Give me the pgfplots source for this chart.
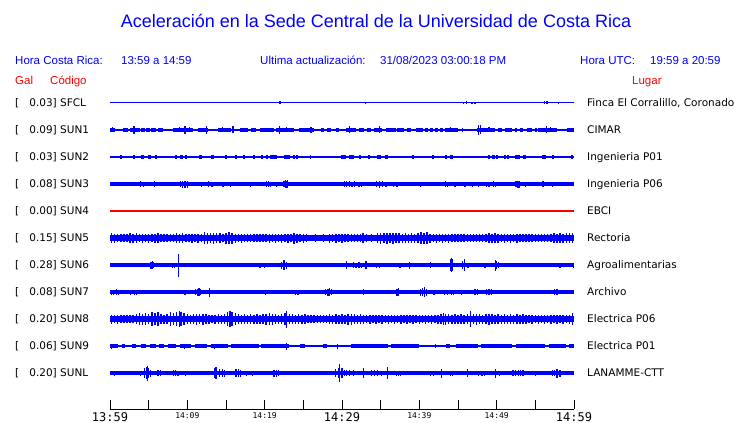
\documentclass[border=0pt]{standalone}
\usepackage{pgfplots}
\pgfplotsset{compat=1.18}
\usepackage{fontspec}
\setmainfont{DejaVu Sans}
\newfontfamily\arial{Liberation Sans}
\newfontfamily\dv{DejaVu Sans}
\newfontfamily\dvm{DejaVu Sans Mono}
\definecolor{tblue}{RGB}{0,0,255}
\definecolor{tred}{RGB}{255,0,0}
\newcommand\TB[1]{{\dvm\fontsize{12}{12}\selectfont #1}}
\newcommand\TS[1]{{\dvm\fontsize{8}{8}\selectfont #1}}
\pgfplotsset{
 spk/.style={only marks, mark size=0pt, mark options={draw=none, fill=none}, error bars/.cd, y dir=both, y explicit, error mark=none, error bar style={line width=#1, draw=tblue}},
 spk/.default=1.2pt,
 blk/.style={only marks, mark size=0pt, mark options={draw=none, fill=none}, error bars/.cd, x dir=both, x explicit, error mark=none, error bar style={line width=#1, draw=tblue}},
 base/.style={tblue, line width=#1},
}
\begin{document}
\begin{tikzpicture}
\useasboundingbox (0,0) rectangle (740pt,423pt);
\begin{axis}[at={(110pt,14pt)}, anchor=south west, scale only axis,
 width=464pt, height=319pt, xmin=0, xmax=60, ymin=90, ymax=409, y dir=reverse,
 axis x line*=bottom, axis y line=none, ytick=\empty, clip=false,
 xtick={0,5,...,60}, tick align=inside, major tick length=9pt,
 tick style={black, line width=0.9pt}, axis line style={black, line width=0.9pt},
 xticklabels={\TB{13:59},,\TS{14:09},,\TS{14:19},,\TB{14:29},,\TS{14:39},,\TS{14:49},,\TB{14:59}},
 xticklabel style={inner sep=0pt, anchor=north, yshift=-3pt},
]
% SFCL
\addplot[base=1pt] coordinates {(0,103) (60,103)};
\addplot[spk=1.4pt] table[row sep=\\, x=t, y expr=103, y error=a] {t a\\ 21.9 1.5\\ 22.0 1.5\\ 33.0 1.3\\ 45.7 1.2\\ 46.1 1.5\\ 46.8 1.3\\ 47.2 1.2\\ 56.2 1.5\\ 56.5 1.5\\ 58.0 1.2\\};
% SUN1
\addplot[base=1.1pt] coordinates {(0,130) (60,130)};
\addplot[blk=3.4pt] table[row sep=\\, x expr={(\thisrow{a}+\thisrow{b})/2}, y expr=130, x error expr={(\thisrow{b}-\thisrow{a})/2}] {a b\\
0 0.65\\ 1.68 2.33\\ 2.59 3.88\\ 4.01 4.53\\ 4.66 5.17\\ 5.3 5.95\\ 6.2 6.85\\ 8.15 10.73\\ 11.38 12.67\\ 13.96 15.65\\ 16.81 17.84\\ 18.23 18.88\\ 19.4 21.2\\ 21.46 23.79\\ 24.44 26.38\\ 27.28 27.67\\ 28.06 28.58\\ 29.22 29.61\\ 30.52 31.81\\ 32.2 32.84\\ 33.23 33.75\\ 34.14 35.17\\ 35.69 36.98\\ 37.11 38.01\\ 38.4 38.92\\ 39.57 40.47\\ 40.73 41.12\\ 41.38 41.76\\ 42.02 42.41\\ 42.67 43.06\\ 43.32 45.0\\ 45.51 45.64\\ 47.45 49.78\\ 50.17 50.69\\ 51.07 51.98\\ 52.37 52.62\\ 53.02 53.4\\ 53.92 54.56\\ 54.95 55.21\\ 55.34 57.8\\ 59.09 60\\};
\addplot[spk] table[row sep=\\, x=t, y expr=130, y error=a] {t a\\ 0.3 2.5\\ 3.1 4\\ 9.0 2.5\\ 9.7 4\\ 10.3 2.5\\ 12.5 4\\ 14.5 2.5\\ 15.9 3.5\\ 21.9 4\\ 22.8 2.5\\ 26.0 3\\ 31.0 3.5\\ 34.8 3.5\\ 44.0 2.5\\ 47.7 5\\ 47.9 4.5\\ 49.0 2.5\\ 56.4 3.5\\ 57.0 2.5\\};
% SUN2
\addplot[base=1.1pt] coordinates {(0,157) (60,157)};
\addplot[blk=3.3pt] table[row sep=\\, x expr={(\thisrow{a}+\thisrow{b})/2}, y expr=157, x error expr={(\thisrow{b}-\thisrow{a})/2}] {a b\\
1.3 1.55\\ 3.0 3.25\\ 4.0 4.4\\ 4.9 5.3\\ 5.8 6.1\\ 8.35 8.6\\ 9.05 9.4\\ 9.7 10.0\\ 11.55 11.85\\ 13.0 13.4\\ 14.9 15.15\\ 16.2 16.4\\ 17.2 17.5\\ 18.5 18.7\\ 19.5 19.75\\ 20.15 20.35\\ 20.7 21.6\\ 22.5 23.3\\ 23.7 23.95\\ 24.1 24.35\\ 25.8 26.05\\ 29.9 30.5\\ 30.9 31.5\\ 32.2 32.5\\ 33.4 33.65\\ 34.5 35.0\\ 35.6 35.9\\ 39.1 39.35\\ 41.7 41.95\\ 43.3 43.6\\ 44.0 44.4\\ 48.9 49.1\\ 49.4 49.8\\ 49.9 50.15\\ 51.0 51.25\\ 51.4 51.65\\ 52.4 53.0\\ 53.4 53.8\\ 55.9 56.4\\ 57.1 57.35\\ 59.6 59.85\\};
% SUN3
\addplot[base=3.3pt] coordinates {(0,184) (60,184)};
\addplot[spk] table[row sep=\\, x=t, y expr=184, y error=a] {t a\\ 3.9 2.8\\ 4.3 2.5\\ 5.8 3\\ 9.1 3\\ 9.4 3.5\\ 9.7 3.5\\ 9.8 3\\ 10.0 3.5\\ 11.8 2.5\\ 12.7 2.8\\ 13.2 2.5\\ 14.6 2.5\\ 15.6 2.5\\ 18.2 2.5\\ 20.2 2.8\\ 20.5 2.8\\ 20.8 2.5\\ 21.5 2.5\\ 22.5 3\\ 22.7 4\\ 22.9 3.5\\ 23.0 4\\ 30.3 2.8\\ 30.6 2.8\\ 31.0 3\\ 31.3 2.5\\ 31.6 2.8\\ 32.2 2.5\\ 32.5 2.5\\ 34.5 3\\ 34.8 3.5\\ 35.2 2.8\\ 35.7 2.5\\ 36.7 2.5\\ 37.1 2.5\\ 40.2 2.5\\ 43.4 3\\ 43.6 2.5\\ 44.6 2.5\\ 45.9 2.5\\ 46.9 2.5\\ 47.7 2.5\\ 48.7 2.5\\ 49.0 2.5\\ 49.6 2.8\\ 49.9 2.5\\ 52.5 3\\ 52.7 3.5\\ 52.9 3.5\\ 53.0 2.8\\ 53.7 2.5\\ 55.9 2.8\\ 56.1 2.8\\ 57.2 2.5\\};
% SUN4
\addplot[tred, line width=1.1pt] coordinates {(0,211) (60,211)};
% SUN5
\addplot[base=6.6pt] coordinates {(0,238) (60,238)};
\addplot[spk=1.5pt] table[row sep=\\, x=t, y expr=238, y error=a] {t a\\
0.2 5\\ 0.6 4.5\\ 1.0 4\\ 1.4 3.8\\ 1.8 4.2\\ 2.2 3.8\\ 2.6 5\\ 3.0 4.5\\ 3.4 5\\ 3.8 4.2\\ 4.2 4.5\\ 4.6 4\\ 5.0 4.5\\ 5.4 4.2\\ 5.8 4.5\\ 6.2 4.8\\ 6.6 4\\ 7.0 3.8\\ 7.4 4\\ 7.8 4.2\\ 8.2 3.8\\ 8.6 5\\ 9.0 4.5\\ 9.4 5\\ 9.8 4.3\\ 10.2 4\\ 10.6 4.5\\ 11.0 4.2\\ 11.4 4.5\\ 11.8 4\\ 12.2 6\\ 12.6 5.5\\ 13.0 5\\ 13.4 5.5\\ 13.8 4.8\\ 14.2 5.2\\ 14.6 4.2\\ 15.0 5.5\\ 15.4 6\\ 15.8 5.5\\ 16.2 4.5\\ 16.6 4.2\\ 17.0 4.5\\ 17.4 4\\ 17.8 4.2\\ 18.2 3.8\\ 18.6 4\\ 19.0 3.8\\ 19.4 4.2\\ 19.8 3.8\\ 20.2 4\\ 20.6 4.5\\ 21.0 4\\ 21.4 4.5\\ 21.8 4.2\\ 22.2 4.5\\ 22.6 4\\ 23.0 4.5\\ 23.4 4.2\\ 23.8 5.5\\ 24.2 4.5\\ 24.6 4.2\\ 25.0 4.5\\ 25.4 4\\ 26.6 3.6\\ 27.6 3.6\\ 28.4 4.5\\ 28.8 4.2\\ 29.2 4.5\\ 29.6 4\\ 30.0 4.5\\ 30.4 4\\ 30.8 3.8\\ 31.2 4\\ 31.6 3.8\\ 32.0 4\\ 32.4 4\\ 32.7 5\\ 33.2 3.6\\ 33.8 3.6\\ 34.6 5\\ 35.0 5.5\\ 35.4 4.8\\ 35.8 5.5\\ 36.2 5\\ 36.6 5.5\\ 37.0 4.8\\ 37.4 5\\ 37.8 4.5\\ 38.2 5\\ 38.6 4.5\\ 39.0 5\\ 39.4 4.5\\ 39.8 5\\ 40.2 6\\ 40.6 5.5\\ 41.0 6\\ 41.4 4.5\\ 41.8 4\\ 42.2 4.5\\ 42.6 4.2\\ 43.0 4.5\\ 43.4 4\\ 43.8 4.5\\ 44.2 4\\ 44.6 3.8\\ 45.0 4\\ 45.4 3.8\\ 45.8 4\\ 46.2 3.8\\ 46.6 4\\ 47.0 3.8\\ 47.4 4\\ 47.8 3.8\\ 48.2 4\\ 48.6 4\\ 49.0 5\\ 49.4 4.5\\ 49.8 5\\ 50.2 4.5\\ 50.6 4.2\\ 51.0 4.5\\ 51.4 4.2\\ 51.8 4.5\\ 52.2 4\\ 52.6 4.5\\ 53.0 4\\ 53.4 3.8\\ 53.8 4\\ 54.2 3.8\\ 54.6 4\\ 55.0 3.8\\ 55.4 4\\ 55.8 3.8\\ 56.2 4\\ 56.6 3.8\\ 57.0 4\\ 57.4 5\\ 57.8 4.5\\ 58.2 5\\ 58.6 4.5\\ 59.0 5\\ 59.4 4.8\\ 59.8 5.2\\};
% SUN6
\addplot[base=3.3pt] coordinates {(0,265) (60,265)};
\addplot[spk] table[row sep=\\, x=t, y expr=265, y error=a] {t a\\ 1.3 2\\ 2.3 2\\ 5.3 3.5\\ 5.5 4\\ 5.6 3\\ 7.2 2\\ 8.1 2.5\\ 8.3 2.5\\ 8.9 11.5\\ 9.4 2\\ 10.7 2\\ 11.0 2\\ 14.0 2\\ 16.9 2\\ 18.1 2\\ 19.4 2.5\\ 19.7 2\\ 20.0 2.5\\ 22.2 3.5\\ 22.5 5\\ 22.8 3.5\\ 23.4 2\\ 30.6 4\\ 31.5 3\\ 31.8 2.5\\ 32.2 3\\ 32.5 2.5\\ 33.1 4\\ 34.5 2.5\\ 34.8 2.5\\ 37.4 2.5\\ 37.6 2.5\\ 38.7 3.5\\ 40.0 2\\ 41.4 3\\ 44.1 6\\ 44.2 7\\ 44.3 6\\ 45.6 4\\ 45.8 6\\ 46.3 2.5\\ 47.5 2\\ 48.5 2.5\\ 49.8 5.5\\ 50.0 4\\ 50.2 3\\ 54.6 2\\ 58.2 2.5\\ 59.9 2.5\\};
% SUN7
\addplot[base=3.3pt] coordinates {(0,292) (60,292)};
\addplot[spk] table[row sep=\\, x=t, y expr=292, y error=a] {t a\\ 0.2 2.5\\ 0.5 2.5\\ 0.8 3\\ 1.1 2.5\\ 2.6 2.5\\ 3.2 2.5\\ 3.4 2.5\\ 4.0 2\\ 9.7 2.5\\ 9.8 2.5\\ 11.1 3\\ 11.3 3.5\\ 11.5 4\\ 11.7 3\\ 12.9 4.5\\ 14.0 2\\ 16.3 2\\ 18.7 2\\ 19.9 2\\ 20.1 2.5\\ 21.5 2\\ 24.0 2.5\\ 24.3 2.5\\ 25.3 2\\ 27.0 2\\ 27.9 3\\ 28.2 3.5\\ 28.4 4\\ 28.6 3\\ 29.9 2\\ 31.5 2\\ 32.8 3\\ 35.4 2\\ 36.5 2\\ 37.1 3.5\\ 37.3 4\\ 38.0 2\\ 40.1 3.5\\ 40.4 4\\ 40.7 5\\ 40.9 3.5\\ 41.8 2.5\\ 42.0 2.5\\ 42.7 2\\ 43.3 2.5\\ 43.6 2.5\\ 44.2 2.5\\ 44.4 2.5\\ 45.5 2.5\\ 47.2 3\\ 47.5 3\\ 48.7 3\\ 49.0 3\\ 49.3 3\\ 53.4 2\\ 54.0 2\\ 56.0 2\\ 57.5 3\\ 57.8 3\\};
% SUN8
\addplot[base=6.5pt] coordinates {(0,319) (60,319)};
\addplot[spk=1.5pt] table[row sep=\\, x=t, y expr=319, y error=a] {t a\\
0.2 4.5\\ 0.6 4\\ 1.0 4.5\\ 1.4 3.8\\ 1.8 4\\ 2.2 3.8\\ 2.6 4\\ 3.0 4\\ 3.4 5\\ 3.8 6\\ 4.2 5.5\\ 4.6 6\\ 5.0 5\\ 5.4 7\\ 5.8 6\\ 6.2 7\\ 6.6 5\\ 7.0 4.5\\ 7.4 5\\ 7.8 7\\ 8.2 6\\ 8.6 7\\ 9.0 8\\ 9.2 7\\ 9.6 6\\ 10.0 5\\ 10.4 4.5\\ 10.8 5\\ 11.2 5.5\\ 11.6 5\\ 12.0 5.5\\ 12.4 5\\ 12.8 4.5\\ 13.2 4.2\\ 13.6 4.5\\ 14.0 5\\ 14.4 4.5\\ 14.8 5\\ 15.2 7\\ 15.5 8\\ 15.8 7\\ 16.2 6\\ 16.6 5\\ 17.0 4.5\\ 17.4 5\\ 17.8 4.5\\ 18.2 5\\ 18.6 4.5\\ 19.0 5\\ 19.4 4.5\\ 19.8 5\\ 20.2 5.5\\ 20.6 6\\ 21.0 5.5\\ 21.4 5\\ 21.8 4.5\\ 22.2 5\\ 22.6 6\\ 22.8 8.5\\ 23.2 5\\ 23.6 5\\ 24.0 4.5\\ 24.4 5\\ 24.8 4.5\\ 25.2 5\\ 25.6 4\\ 26.0 3.8\\ 26.4 4\\ 26.8 3.8\\ 27.2 4\\ 27.6 3.8\\ 28.0 4\\ 28.4 5\\ 28.8 4.5\\ 29.2 5\\ 29.6 4.5\\ 30.0 5\\ 30.4 4.5\\ 30.8 5.5\\ 31.2 5.5\\ 31.6 5\\ 32.0 4.5\\ 32.4 5\\ 32.8 4.5\\ 33.2 4\\ 33.6 4.5\\ 34.0 4\\ 34.4 4.5\\ 34.8 4\\ 35.2 4.5\\ 35.6 4\\ 36.0 4.5\\ 36.4 4\\ 36.8 4.5\\ 37.2 4\\ 37.6 4.5\\ 38.0 4\\ 38.4 4.5\\ 38.8 4\\ 39.2 4.5\\ 39.6 4\\ 40.0 4.5\\ 40.4 4.2\\ 40.8 4.5\\ 41.2 4.2\\ 41.6 4.5\\ 42.0 4.2\\ 42.4 4.5\\ 42.8 5\\ 43.1 6\\ 43.4 5.5\\ 43.8 5\\ 44.2 4.5\\ 44.6 5\\ 45.0 4.5\\ 45.4 5\\ 45.8 4.5\\ 46.2 5\\ 46.6 8\\ 47.0 5\\ 47.4 5.5\\ 47.8 5\\ 48.2 4.5\\ 48.6 5\\ 49.0 5.5\\ 49.4 5\\ 49.8 4.5\\ 50.2 5\\ 50.6 4.5\\ 51.0 5\\ 51.4 4.5\\ 51.8 5\\ 52.2 4.5\\ 52.6 5\\ 53.0 4.5\\ 53.4 5\\ 53.8 4.5\\ 54.2 4\\ 54.6 4.5\\ 55.0 4\\ 55.4 4.5\\ 55.8 4\\ 56.2 4.5\\ 56.6 4\\ 57.0 4.5\\ 57.4 4\\ 57.8 4.5\\ 58.2 4\\ 58.6 4.5\\ 59.0 4\\ 59.4 4.5\\ 59.8 6\\};
% SUN9
\addplot[base=2.2pt] coordinates {(0,346) (60,346)};
\addplot[blk=3.6pt] table[row sep=\\, x expr={(\thisrow{a}+\thisrow{b})/2}, y expr=346, x error expr={(\thisrow{b}-\thisrow{a})/2}] {a b\\
0 1.0\\ 1.5 2.0\\ 2.8 3.3\\ 4.0 4.6\\ 5.2 6.0\\ 6.3 7.0\\ 7.5 8.5\\ 9.0 10.5\\ 11.0 12.5\\ 13.0 15.2\\ 15.6 19.3\\ 19.5 23.2\\ 24.6 25.2\\ 27.5 28.0\\ 31.2 36.0\\ 36.4 40.0\\ 43.5 44.0\\ 44.8 47.6\\ 48.0 52.0\\ 52.5 56.3\\ 56.8 59.0\\ 59.3 60\\};
\addplot[spk] table[row sep=\\, x=t, y expr=346, y error=a] {t a\\ 0.2 2.5\\ 9.6 2.5\\ 13.5 2.5\\ 20.1 2.3\\ 22.8 3.5\\ 29.4 2.5\\ 35.0 2.3\\ 42.1 2.3\\ 47.2 2.3\\ 53.7 2.3\\};
% SUNL
\addplot[base=3.6pt] coordinates {(0,373) (60,373)};
\addplot[spk] table[row sep=\\, x=t, y expr=373, y error=a] {t a\\ 0.6 2.5\\ 3.9 2.5\\ 4.5 5\\ 4.7 6\\ 4.8 7.5\\ 5.0 5\\ 5.2 3.5\\ 6.2 3\\ 6.5 3\\ 7.5 2\\ 8.2 3\\ 8.5 3\\ 8.8 2.5\\ 9.8 2.5\\ 13.5 5\\ 13.7 6\\ 14.2 4\\ 14.5 4\\ 14.8 3.5\\ 16.3 4\\ 16.6 4\\ 16.9 3.5\\ 17.6 2.5\\ 18.4 2.5\\ 21.2 3.5\\ 21.5 3.5\\ 21.8 3\\ 23.5 2\\ 24.4 2\\ 24.8 2\\ 25.3 2\\ 29.2 4\\ 29.5 5\\ 29.7 9\\ 30.0 5\\ 30.3 3\\ 30.6 3\\ 31.0 3\\ 31.5 3\\ 32.8 5\\ 33.8 3\\ 34.2 3\\ 34.6 3\\ 35.1 2.5\\ 35.9 6\\ 37.0 2.5\\ 37.3 2.5\\ 37.6 2.5\\ 38.9 2\\ 41.4 2.5\\ 41.8 2.5\\ 42.9 4.5\\ 44.0 2.5\\ 44.3 2.5\\ 46.2 4\\ 47.6 2.5\\ 48.1 2.5\\ 48.4 2.5\\ 49.8 4.5\\ 50.4 2.5\\ 52.1 3\\ 52.4 3\\ 52.8 3\\ 53.1 3\\ 53.4 3\\ 55.0 2.5\\ 57.2 3\\ 57.5 3\\ 57.8 4.5\\ 58.2 3.5\\};
\end{axis}
% titles and header
\node[anchor=base, font=\arial\fontsize{18}{18}\selectfont, text=tblue, inner sep=0pt] at (376pt,395pt) {Aceleración en la Sede Central de la Universidad de Costa Rica};
\begin{scope}[every node/.style={anchor=base west, inner sep=0pt, font=\arial\fontsize{11.5}{12}\selectfont, text=tblue}]
\node at (15pt,358pt) {Hora Costa Rica:};
\node at (121pt,358pt) {13:59 a 14:59};
\node at (260pt,358pt) {Ultima actualización:};
\node at (380pt,358pt) {31/08/2023 03:00:18 PM};
\node at (580pt,358pt) {Hora UTC:};
\node at (650pt,358pt) {19:59 a 20:59};
\node[text=tred] at (15pt,338pt) {Gal};
\node[text=tred] at (50pt,338pt) {Código};
\node[text=tred] at (632pt,338pt) {Lugar};
\end{scope}
\begin{scope}[every node/.style={inner sep=0pt, font=\dv\fontsize{10.5}{12}\selectfont, text=black}]
\foreach \py/\g/\c/\l in {103/0.03/SFCL/{Finca El Corralillo, Coronado}, 130/0.09/SUN1/CIMAR, 157/0.03/SUN2/Ingenieria P01, 184/0.08/SUN3/Ingenieria P06, 211/0.00/SUN4/EBCI, 238/0.15/SUN5/Rectoria, 265/0.28/SUN6/Agroalimentarias, 292/0.08/SUN7/Archivo, 319/0.20/SUN8/Electrica P06, 346/0.06/SUN9/Electrica P01, 373/0.20/SUNL/LANAMME-CTT}{
  \node[anchor=base west] at (15pt,{(419.2-\py)*1pt}) {[};
  \node[anchor=base east] at (57pt,{(419.2-\py)*1pt}) {\g]};
  \node[anchor=base west] at (60pt,{(419.2-\py)*1pt}) {\c};
  \node[anchor=base west] at (587pt,{(419.2-\py)*1pt}) {\l};
}
\end{scope}
\end{tikzpicture}
\end{document}
